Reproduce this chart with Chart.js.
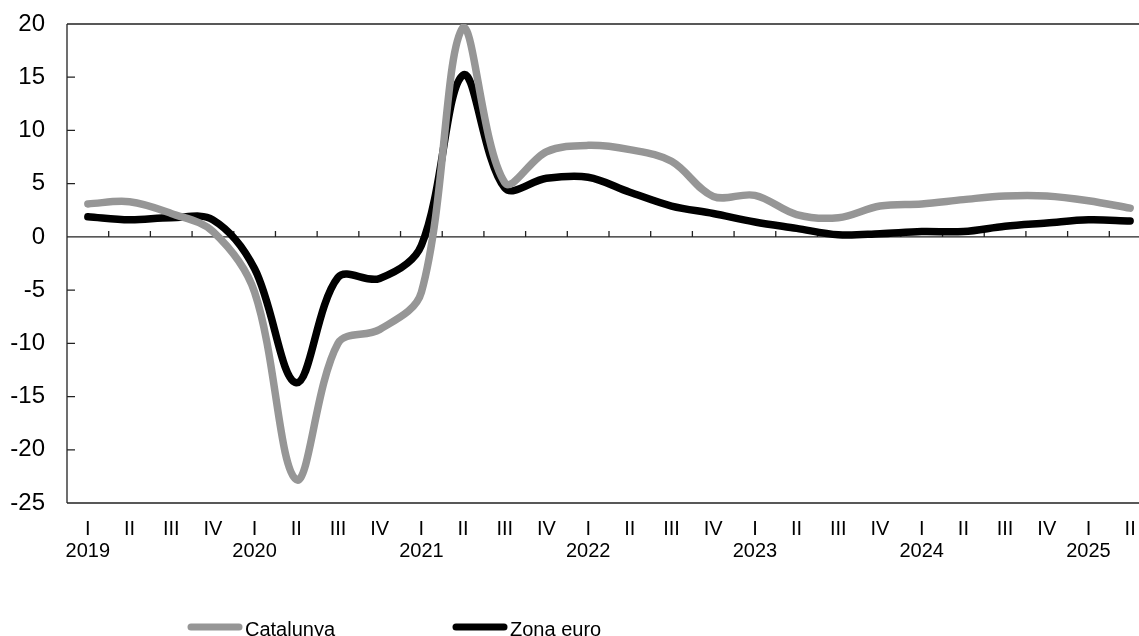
<!DOCTYPE html>
<html>
<head>
<meta charset="utf-8">
<script src="https://cdn.jsdelivr.net/npm/chart.js@4"></script>
<style>
  html, body { margin: 0; padding: 0; background: #fff; overflow: hidden; }
  #wrap { width: 1151px; height: 636px; }
</style>
</head>
<body>
<div id="wrap"><canvas id="chart" width="1151" height="636"></canvas></div>
<script>
// Quarterly series, 2019 I – 2025 II
const quarters = ['I','II','III','IV','I','II','III','IV','I','II','III','IV','I','II','III','IV','I','II','III','IV','I','II','III','IV','I','II'];
const years    = ['2019','','','','2020','','','','2021','','','','2022','','','','2023','','','','2024','','','','2025',''];
const catalunya = [3.1, 3.3, 2.2, 0.5, -5.2, -22.8, -10.0, -8.7, -5.2, 19.7, 5.1, 8.0, 8.6, 8.2, 7.1, 3.8, 3.9, 2.1, 1.8, 2.9, 3.1, 3.5, 3.85, 3.85, 3.4, 2.7];
const zonaEuro  = [1.9, 1.6, 1.8, 1.6, -3.0, -13.7, -3.8, -3.9, -0.8, 15.2, 4.6, 5.5, 5.6, 4.2, 2.9, 2.2, 1.4, 0.8, 0.2, 0.3, 0.5, 0.5, 1.0, 1.3, 1.6, 1.5];
const seriesNames = ['Catalunya', 'Zona euro'];
const seriesColors = ['#969696', '#000000'];
const yMin = -25, yMax = 20, yStep = 5;

const labels = quarters.map((q, i) => years[i] ? [q, years[i]] : q);
const FONT = '"Liberation Sans", Arial, sans-serif';

// Frame, inward y ticks and the zero line with its quarter separators
const axesPlugin = {
  id: 'axesFrame',
  beforeDatasetsDraw(chart) {
    const { ctx, chartArea: a, scales: { x, y } } = chart;
    ctx.save();
    ctx.strokeStyle = '#222';
    ctx.lineWidth = 1.3;
    ctx.beginPath();
    ctx.moveTo(a.left, a.top); ctx.lineTo(a.right, a.top);
    ctx.moveTo(a.left, a.top); ctx.lineTo(a.left, a.bottom);
    ctx.moveTo(a.left, a.bottom); ctx.lineTo(a.right, a.bottom);
    // y ticks pointing into the plot
    for (let v = yMin + yStep; v < yMax; v += yStep) {
      if (v === 0) continue;
      const py = y.getPixelForValue(v);
      ctx.moveTo(a.left, py); ctx.lineTo(a.left + 8, py);
    }
    // zero line
    const y0 = y.getPixelForValue(0);
    ctx.moveTo(a.left, y0); ctx.lineTo(a.right, y0);
    // separators between quarters, drawn upward from the zero line
    for (let i = 0; i < labels.length; i++) {
      const px = (x.getPixelForValue(i) + x.getPixelForValue(i + 1)) / 2;
      ctx.moveTo(px, y0); ctx.lineTo(px, y0 - 6);
    }
    ctx.stroke();
    ctx.restore();
  }
};

// Legend row below the axis
const legendPlugin = {
  id: 'legendRow',
  afterDraw(chart) {
    const { ctx } = chart;
    const items = [{ x0: 188, x1: 242 }, { x0: 453, x1: 507 }];
    const ly = 627;
    ctx.save();
    ctx.font = '20px ' + FONT;
    ctx.textBaseline = 'alphabetic';
    ctx.textAlign = 'left';
    items.forEach((it, i) => {
      ctx.strokeStyle = seriesColors[i];
      ctx.lineWidth = 7;
      ctx.lineCap = 'round';
      ctx.beginPath();
      ctx.moveTo(it.x0 + 3, ly); ctx.lineTo(it.x1 - 3, ly);
      ctx.stroke();
      ctx.fillStyle = '#000';
      ctx.fillText(seriesNames[i], it.x1 + 3, 636);
    });
    ctx.restore();
  }
};

new Chart(document.getElementById('chart'), {
  type: 'line',
  data: {
    labels,
    datasets: [
      { label: seriesNames[0], data: catalunya, borderColor: seriesColors[0], borderWidth: 7.5,
        pointRadius: 0, tension: 0.35, borderCapStyle: 'round', borderJoinStyle: 'round', fill: false },
      { label: seriesNames[1], data: zonaEuro, borderColor: seriesColors[1], borderWidth: 7.5,
        pointRadius: 0, tension: 0.35, borderCapStyle: 'round', borderJoinStyle: 'round', fill: false }
    ]
  },
  options: {
    responsive: false,
    devicePixelRatio: 1,
    animation: false,
    layout: { padding: { top: 24, right: 0, left: 0, bottom: 0 } },
    plugins: { legend: { display: false }, tooltip: { enabled: false } },
    scales: {
      x: {
        type: 'category',
        offset: true,
        grid: { display: false, drawTicks: false },
        border: { display: false },
        ticks: { color: '#000', autoSkip: false, maxRotation: 0, padding: 15,
                 font: { family: FONT, size: 20, lineHeight: 1.13 } },
        afterFit: s => { s.height = 133; s.paddingLeft = 0; s.paddingRight = 0; }
      },
      y: {
        min: yMin, max: yMax,
        grid: { display: false, drawTicks: false },
        border: { display: false },
        ticks: { stepSize: yStep, color: '#000', padding: 22,
                 font: { family: FONT, size: 24 } },
        afterFit: s => { s.width = 67; s.paddingTop = 0; s.paddingBottom = 0; }
      }
    }
  },
  plugins: [axesPlugin, legendPlugin]
});
</script>
</body>
</html>
